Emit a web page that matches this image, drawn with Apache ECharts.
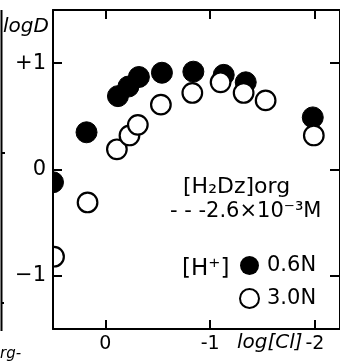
<!DOCTYPE html>
<html><head><meta charset="utf-8">
<script src="https://cdn.jsdelivr.net/npm/echarts@6/dist/echarts.min.js"></script>
<style>html,body{margin:0;padding:0;background:#fff}#c{width:340px;height:361px}</style>
</head><body><div id="c"></div>
<script>
// log[Cl] and logD values for [H+] = 0.6N (filled) and 3.0N (open)
var filledX = [0.50, 0.18, -0.12, -0.22, -0.32, -0.54, -0.84, -1.13, -1.34, -1.98];
var filledY = [-0.12, 0.35, 0.69, 0.78, 0.87, 0.91, 0.92, 0.89, 0.82, 0.49];
var openX = [0.49, 0.17, -0.11, -0.23, -0.31, -0.53, -0.83, -1.10, -1.32, -1.53, -1.99];
var openY = [-0.82, -0.31, 0.19, 0.32, 0.42, 0.61, 0.72, 0.82, 0.72, 0.65, 0.32];
var xTicks = [0, -1, -2];
var yTicks = [1, 0, -1];
var seriesNames = ['0.6N', '3.0N'];

function pairs(xs, ys) { return xs.map(function (x, i) { return [x, ys[i]]; }); }

var FONT = 'DejaVu Sans';
var chart = echarts.init(document.getElementById('c'), null, {renderer: 'canvas'});
var axisLineStyle = {color: '#000', width: 2};
var tickStyle = {color: '#000', width: 2};

function circleRenderer(fill, stroke, lw, r) {
  return function (params, api) {
    var p = api.coord([api.value(0), api.value(1)]);
    return {
      type: 'circle',
      shape: {cx: p[0], cy: p[1], r: r},
      style: {fill: fill, stroke: stroke, lineWidth: lw}
    };
  };
}

chart.setOption({
  animation: false,
  backgroundColor: '#fff',
  grid: {left: 53, top: 10, width: 290, height: 319, containLabel: false},
  xAxis: [{
    type: 'value', min: -2.24, max: 0.5, inverse: true, position: 'bottom', z: 5,
    axisLine: {show: true, onZero: false, lineStyle: axisLineStyle},
    axisTick: {show: true, inside: true, length: 9, lineStyle: tickStyle, customValues: xTicks},
    axisLabel: {customValues: xTicks, margin: 6, color: '#000', fontFamily: FONT, fontSize: 19},
    splitLine: {show: false}
  }, {
    type: 'value', min: -2.24, max: 0.5, inverse: true, position: 'top', z: 5,
    axisLine: {show: true, onZero: false, lineStyle: axisLineStyle},
    axisTick: {show: true, inside: true, length: 9, lineStyle: tickStyle, customValues: xTicks},
    axisLabel: {show: false}, splitLine: {show: false}
  }],
  yAxis: [{
    type: 'value', min: -1.5, max: 1.5, position: 'left', z: 5,
    axisLine: {show: true, onZero: false, lineStyle: axisLineStyle},
    axisTick: {show: true, inside: true, length: 9, lineStyle: tickStyle, customValues: yTicks},
    axisLabel: {customValues: yTicks, margin: 7, color: '#000', fontFamily: FONT, fontSize: 21,
      formatter: function (v) { return v > 0 ? '+' + v : (v < 0 ? '\u2212' + (-v) : '' + v); }},
    splitLine: {show: false}
  }, {
    type: 'value', min: -1.5, max: 1.5, position: 'right', z: 5,
    axisLine: {show: true, onZero: false, lineStyle: axisLineStyle},
    axisTick: {show: true, inside: true, length: 10, lineStyle: tickStyle, customValues: yTicks},
    axisLabel: {show: false}, splitLine: {show: false}
  }],
  legend: {
    orient: 'vertical', left: 234, top: 250, itemWidth: 19, itemHeight: 19, itemGap: 12,
    textStyle: {color: '#000', fontFamily: FONT, fontSize: 21, padding: [0, 0, 0, 3]},
    data: [
      {name: seriesNames[0], icon: 'circle', itemStyle: {color: '#000', borderColor: '#000', borderWidth: 0}},
      {name: seriesNames[1], icon: 'circle', itemStyle: {color: '#fff', borderColor: '#000', borderWidth: 2}}
    ]
  },
  series: [{
    name: seriesNames[0], type: 'custom', clip: true, z: 2,
    itemStyle: {color: '#000'},
    renderItem: circleRenderer('#000', '#000', 1, 10.5),
    data: pairs(filledX, filledY)
  }, {
    name: seriesNames[1], type: 'custom', clip: true, z: 3,
    itemStyle: {color: '#fff', borderColor: '#000', borderWidth: 2},
    renderItem: circleRenderer('#fff', '#000', 2.2, 9.8),
    data: pairs(openX, openY)
  }],
  graphic: [
    {type: 'line', shape: {x1: 1.5, y1: 10, x2: 1.5, y2: 331}, style: {stroke: '#000', lineWidth: 2}},
    {type: 'line', shape: {x1: 1, y1: 153, x2: 5, y2: 153}, style: {stroke: '#000', lineWidth: 2}},
    {type: 'line', shape: {x1: 1, y1: 303, x2: 4, y2: 303}, style: {stroke: '#000', lineWidth: 2}},
    {type: 'text', left: 3, top: 17, style: {text: 'logD', fill: '#000', font: 'italic 20px ' + FONT}},
    {type: 'text', left: 237, top: 333, style: {text: 'log[Cl]', fill: '#000', font: 'italic 20px ' + FONT}},
    {type: 'text', left: 183, top: 176, style: {text: '[H\u2082Dz]org', fill: '#000', font: '22px ' + FONT}},
    {type: 'text', left: 170, top: 201, style: {text: '- - -2.6\u00d710\u207b\u00b3M', fill: '#000', font: '21px ' + FONT}},
    {type: 'text', left: 182, top: 258, style: {text: '[H\u207a]', fill: '#000', font: '23px ' + FONT}},
    {type: 'text', left: 0, top: 347, style: {text: 'rg-', fill: '#000', font: 'italic 15px ' + FONT}}
  ]
});
</script></body></html>
